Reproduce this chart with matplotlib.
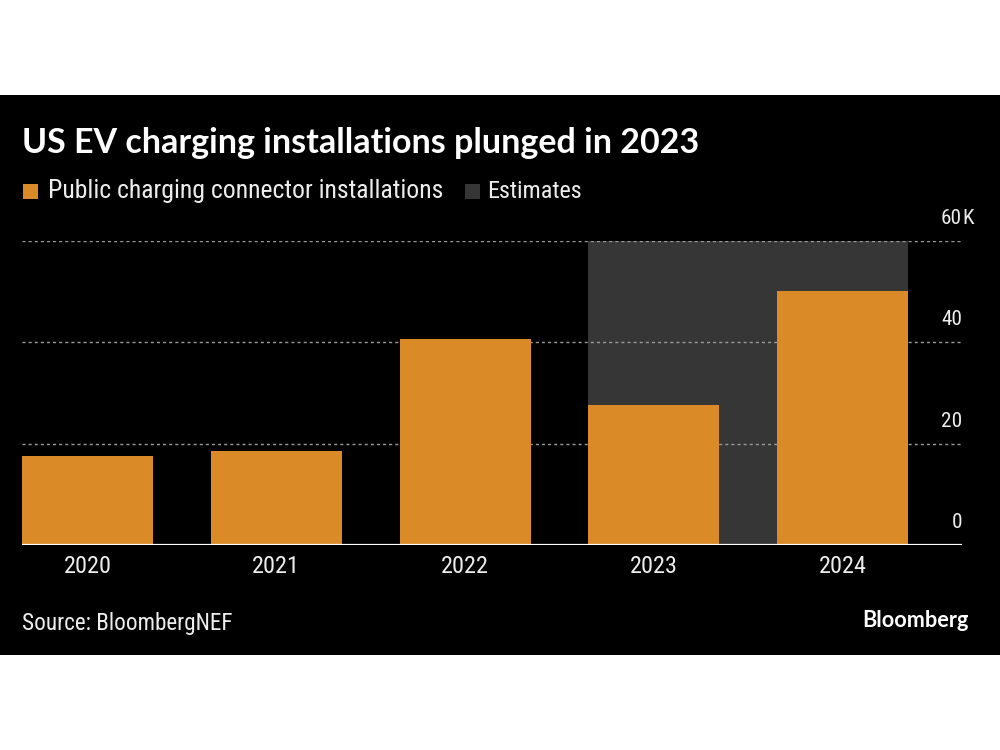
import matplotlib
matplotlib.use('Agg')
import matplotlib.pyplot as plt
from matplotlib.patches import Rectangle
from matplotlib import font_manager as fm
import matplotlib.transforms as mtransforms

# ---------------- data ----------------
years = ['2020', '2021', '2022', '2023', '2024']
installs = [17.6, 18.6, 40.7, 27.6, 50.2]          # thousands of connectors
estimate_years = ['2023', '2024']
yticks = [0, 20, 40, 60]
ytick_labels = ['0', '20', '40', '60']
ytick_suffix = 'K'

title = 'US EV charging installations plunged in 2023'
legend_labels = ['Public charging connector installations', 'Estimates']
source = 'Source: BloombergNEF'
brand = 'Bloomberg'

ORANGE = '#DB8A28'
GREY = '#363636'
TEXT = '#EDEDED'

# ---------------- font choice ----------------
names = {f.name for f in fm.fontManager.ttflist}
cond = None
for cand in ['Roboto Condensed', 'Liberation Sans Narrow', 'Open Sans Condensed', 'DejaVu Sans Condensed']:
    if cand in names:
        cond = cand
        break
FONT = cond if cond else 'DejaVu Sans'
plt.rcParams['font.family'] = [FONT, 'DejaVu Sans']
TITLE_FONT = ['Lato', 'DejaVu Sans'] if 'Lato' in names else ['DejaVu Sans']
BRAND_FONT = ['Lato', 'DejaVu Sans'] if 'Lato' in names else ['DejaVu Sans']

W, H = 1000, 750
fig = plt.figure(figsize=(10, 7.5), dpi=100)
fig.patch.set_facecolor('white')
fig.add_artist(Rectangle((0, 1 - 655 / H), 1, 560 / H, transform=fig.transFigure,
                         facecolor='black', edgecolor='none', zorder=0))

def fx(px):
    return px / W

def fy(py):
    return 1 - py / H

renderer = fig.canvas.get_renderer()

def fit_width(t, target_px, size0):
    t.set_fontsize(size0)
    w = t.get_window_extent(renderer=renderer).width
    t.set_fontsize(size0 * target_px / w)
    return t

# axes
ax_left, ax_right = 22, 962
ax_top, ax_bot = 241, 545
ax = fig.add_axes([fx(ax_left), fy(ax_bot), fx(ax_right - ax_left), (ax_bot - ax_top) / H])
ax.set_facecolor('none')
for s in ax.spines.values():
    s.set_visible(False)

x = list(range(len(years)))
bw = 0.695
ax.set_xlim(-bw / 2, -bw / 2 + (ax_right - ax_left) / 188.75)
ax.set_ylim(0, 60)

# estimates band
i0 = years.index(estimate_years[0])
i1 = years.index(estimate_years[-1])
ax.axvspan(i0 - bw / 2, i1 + bw / 2, ymin=0, ymax=1, facecolor=GREY, edgecolor='none', zorder=0)

# grid
for v in yticks[1:]:
    ax.axhline(v, color='#9a9a9a', lw=1, linestyle=(0, (2.2, 2.2)), zorder=1)

ax.bar(x, installs, width=bw, color=ORANGE, zorder=2)
ax.axhline(0, color='white', lw=1.6, zorder=3)

ax.set_xticks(x)
ax.set_xticklabels(years)
ax.set_yticks([])
ax.tick_params(axis='x', length=0, pad=7, labelcolor=TEXT)
for lab in ax.get_xticklabels():
    fit_width(lab, 48, 14)

# y labels, right side, above gridlines
trans = mtransforms.blended_transform_factory(ax.transAxes, ax.transData)
for v, lab in zip(yticks, ytick_labels):
    off = mtransforms.offset_copy(trans, fig=fig, x=0, y=13, units='dots')
    t = ax.text(1.0, v, lab, transform=off, ha='right', va='bottom', color=TEXT, zorder=4)
    fit_width(t, 10.5 * len(lab), 14)
    if v == yticks[-1]:
        off2 = mtransforms.offset_copy(trans, fig=fig, x=0, y=13, units='dots')
        ax.text(1.0, v, ytick_suffix, transform=off2, ha='left', va='bottom', color=TEXT,
                fontsize=t.get_fontsize(), zorder=4)

# title
tt = fig.text(fx(22), fy(153), title, ha='left', va='baseline', color='white',
              fontweight='bold', family=TITLE_FONT)
fit_width(tt, 676, 20)

# legend
fig.add_artist(Rectangle((fx(23), fy(199)), 15 / W, 15 / H, transform=fig.transFigure,
                         facecolor=ORANGE, edgecolor='none'))
l1 = fig.text(fx(48), fy(198), legend_labels[0], ha='left', va='baseline', color=TEXT)
fit_width(l1, 396, 15)
fig.add_artist(Rectangle((fx(465), fy(199)), 15 / W, 15 / H, transform=fig.transFigure,
                         facecolor=GREY, edgecolor='none'))
l2 = fig.text(fx(487), fy(198), legend_labels[1], ha='left', va='baseline', color=TEXT)
fit_width(l2, 95, 15)

# footer
s1 = fig.text(fx(22), fy(630), source, ha='left', va='baseline', color=TEXT)
fit_width(s1, 211, 14)
b1 = fig.text(fx(969), fy(627), brand, ha='right', va='baseline', color='white',
              fontweight='bold', family=BRAND_FONT)
fit_width(b1, 107, 14)

fig.savefig('out.png', dpi=100, facecolor='white')
